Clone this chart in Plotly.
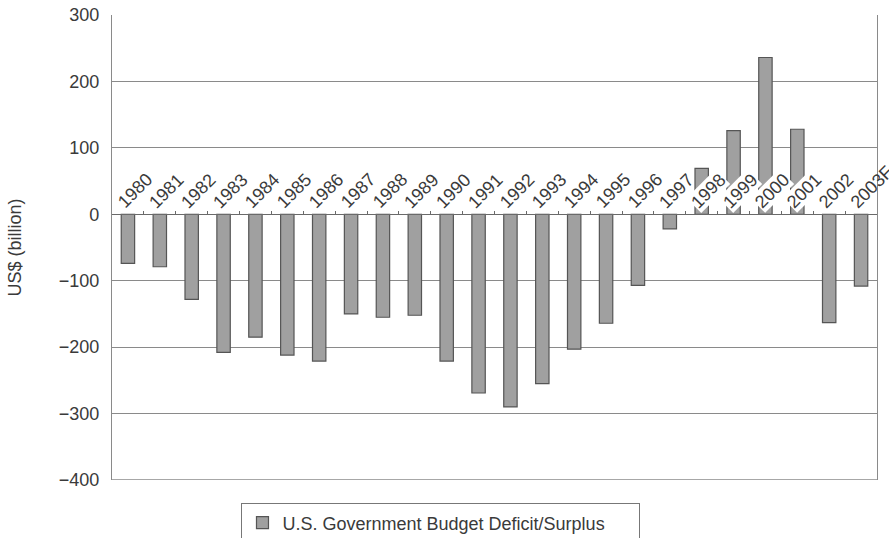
import plotly.graph_objects as go

# Fiscal years and federal budget balance (US$ billion)
years = ["1980", "1981", "1982", "1983", "1984", "1985", "1986", "1987",
         "1988", "1989", "1990", "1991", "1992", "1993", "1994", "1995",
         "1996", "1997", "1998", "1999", "2000", "2001", "2002", "2003F"]
balance = [-74, -79, -128, -208, -185, -212, -221, -150,
           -155, -152, -221, -269, -290, -255, -203, -164,
           -107, -22, 69, 126, 236, 128, -163, -108]

y_ticks = [300, 200, 100, 0, -100, -200, -300, -400]

FONT = "Liberation Sans Narrow, Arial Narrow, Liberation Sans, Arial, sans-serif"
INK = "#3a3a3a"
GRID = "#8a8a8a"

fig = go.Figure()
fig.add_trace(go.Bar(
    x=years,
    y=balance,
    name="U.S. Government Budget Deficit/Surplus",
    marker=dict(color="#a0a0a0", line=dict(color="#555555", width=1.2)),
))

# Category labels sit on the zero line, slanted upward; labels of surplus
# years get a white backing that masks the foot of their bars.
# (year strings look numeric, so annotations are placed by category index)
for i, (yr, val) in enumerate(zip(years, balance)):
    fig.add_annotation(
        x=i, y=0, xref="x", yref="y",
        text=yr, showarrow=False, textangle=-45,
        xanchor="left", yanchor="bottom",
        xshift=-16, yshift=1,
        bgcolor="white" if val > 0 else "rgba(0,0,0,0)",
        borderpad=0,
        font=dict(family=FONT, size=18, color=INK),
    )

fig.update_layout(
    width=889,
    height=538,
    margin=dict(l=112, r=12, t=15, b=58, autoexpand=False),
    paper_bgcolor="white",
    plot_bgcolor="white",
    bargap=0.58,
    font=dict(family=FONT, color=INK, size=16),
    showlegend=True,
    legend=dict(
        orientation="h",
        x=0.169, y=-0.05, xanchor="left", yanchor="top",
        bordercolor="#777777", borderwidth=1.2, bgcolor="white",
        font=dict(family=FONT, size=18, color=INK),
        itemwidth=30,
        entrywidth=351,
        entrywidthmode="pixels",
    ),
    xaxis=dict(
        type="category",
        range=[-0.5, len(years) - 0.5],
        anchor="free",
        position=4 / 7,
        automargin=False,
        showticklabels=False,
        showline=True,
        linecolor="#6a6a6a",
        linewidth=1.2,
        ticks="inside",
        tickson="boundaries",
        ticklen=3,
        tickcolor="#6a6a6a",
        showgrid=False,
    ),
    yaxis=dict(
        range=[-400, 300],
        tickvals=y_ticks,
        automargin=False,
        showgrid=True,
        gridcolor=GRID,
        gridwidth=1.3,
        zeroline=False,
        showline=True,
        linecolor=GRID,
        linewidth=1.3,
        mirror=True,
        ticks="",
        ticklabelstandoff=8,
        title=dict(text="US$ (billion)", standoff=32,
                   font=dict(family=FONT, size=18, color=INK)),
        tickfont=dict(family=FONT, size=18, color=INK),
    ),
)

# closing frame along the bottom of the plot area
fig.add_shape(type="line", xref="paper", yref="y", x0=0, x1=1, y0=-400, y1=-400,
              line=dict(color=GRID, width=1.3))

fig.write_html("out.html")
